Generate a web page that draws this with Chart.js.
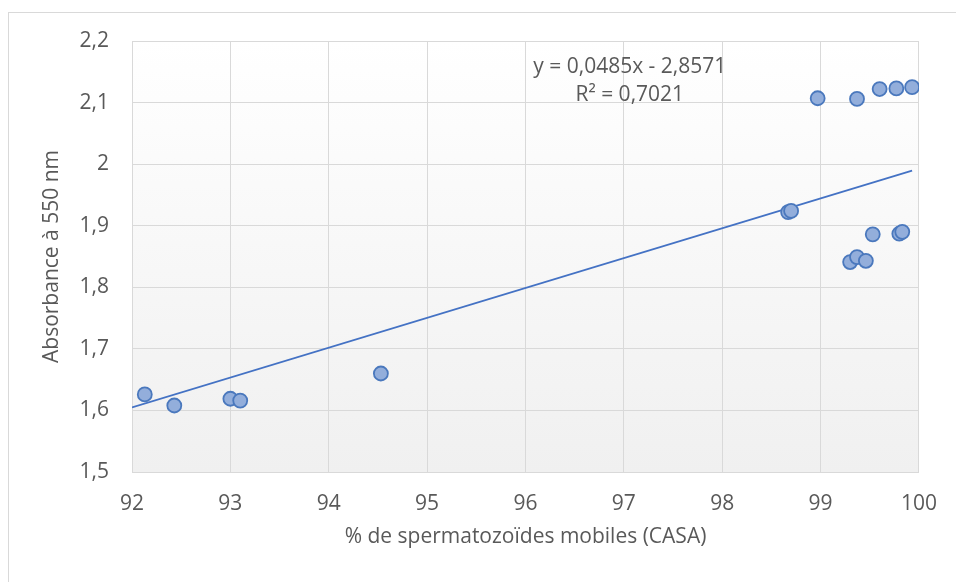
<!DOCTYPE html>
<html>
<head>
<meta charset="utf-8">
<script src="https://cdn.jsdelivr.net/npm/chart.js@4/dist/chart.umd.min.js"></script>
<style>
  html, body { margin: 0; padding: 0; background: #fff; }
  #wrap { position: relative; width: 956px; height: 582px; overflow: hidden; }
  #frame { position: absolute; left: 8px; top: 12px; width: 1200px; height: 900px; border: 1px solid #d9d9d9; }
  #c { position: absolute; left: 0; top: 0; }
</style>
</head>
<body>
<div id="wrap">
  <div id="frame"></div>
  <canvas id="c" width="956" height="582"></canvas>
</div>
<script>
// % mobile spermatozoa (CASA) vs absorbance at 550 nm
const mobility = [92.13, 92.43, 93.00, 93.10, 94.53, 98.67, 98.70, 98.97, 99.30, 99.37, 99.37, 99.46, 99.53, 99.60, 99.77, 99.80, 99.83, 99.93];
const absorbance = [1.626, 1.608, 1.619, 1.616, 1.660, 1.922, 1.924, 2.107, 1.841, 1.849, 2.106, 1.843, 1.886, 2.122, 2.123, 1.887, 1.890, 2.125];

// Excel linear trendline
const slope = 0.0485;
const intercept = -2.8571;
const trendX = [92, 99.93];
const eqLabels = ["y = 0,0485x - 2,8571", "R² = 0,7021"];

const xTicks = [92, 93, 94, 95, 96, 97, 98, 99, 100];
const yTicks = [1.5, 1.6, 1.7, 1.8, 1.9, 2.0, 2.1, 2.2];

const grey = "#595959";
const font = { family: "'Open Sans', sans-serif", size: 21 };

const points = mobility.map((x, i) => ({ x: x, y: absorbance[i] }));
const trend = trendX.map(x => ({ x: x, y: slope * x + intercept }));

const plotBg = {
  id: "plotBg",
  beforeDraw(chart) {
    const a = chart.chartArea, ctx = chart.ctx;
    const g = ctx.createLinearGradient(0, a.top, 0, a.bottom);
    g.addColorStop(0, "#ffffff");
    g.addColorStop(1, "#f0f0f0");
    ctx.save();
    ctx.fillStyle = g;
    ctx.fillRect(a.left, a.top, a.right - a.left, a.bottom - a.top);
    ctx.restore();
  }
};

const equation = {
  id: "equation",
  afterDraw(chart) {
    const ctx = chart.ctx;
    const cx = chart.scales.x.getPixelForValue(97.06);
    ctx.save();
    ctx.fillStyle = grey;
    ctx.font = "21px 'Open Sans', sans-serif";
    ctx.textAlign = "center";
    ctx.textBaseline = "middle";
    ctx.fillText(eqLabels[0], cx, chart.scales.y.getPixelForValue(2.158));
    ctx.fillText(eqLabels[1], cx, chart.scales.y.getPixelForValue(2.112));
    ctx.restore();
  }
};

new Chart(document.getElementById("c"), {
  type: "scatter",
  data: {
    datasets: [{
      data: points,
      backgroundColor: "#93aedb",
      borderColor: "#4a78bd",
      borderWidth: 1.8,
      pointRadius: 7,
      pointHoverRadius: 7
    }, {
      type: "line",
      data: trend,
      borderColor: "#4472c4",
      borderWidth: 1.8,
      pointRadius: 0,
      fill: false
    }]
  },
  options: {
    responsive: false,
    animation: false,
    events: [],
    layout: { padding: { top: 41, right: 31, left: 0, bottom: 0 } },
    plugins: { legend: { display: false }, tooltip: { enabled: false } },
    scales: {
      x: {
        type: "linear",
        min: 92, max: 100,
        afterBuildTicks: s => { s.ticks = xTicks.map(v => ({ value: v })); },
        afterFit: s => { s.height = 110; },
        grid: { color: "#d9d9d9", lineWidth: 1, drawTicks: false },
        border: { color: "#d9d9d9" },
        ticks: { color: grey, font: font, padding: 19 },
        title: {
          display: true,
          text: "% de spermatozoïdes mobiles (CASA)",
          color: grey, font: font,
          padding: { top: 0, bottom: 32 }
        }
      },
      y: {
        min: 1.5, max: 2.2,
        afterBuildTicks: s => { s.ticks = yTicks.map(v => ({ value: v })); },
        afterFit: s => { s.width = 132; },
        grid: { color: "#d9d9d9", lineWidth: 1, drawTicks: false },
        border: { color: "#d9d9d9" },
        ticks: {
          color: grey, font: font, padding: 23,
          callback: v => String(Math.round(v * 10) / 10).replace(".", ",")
        },
        title: {
          display: true,
          text: "Absorbance à 550 nm",
          color: grey, font: font,
          padding: { top: 39, bottom: 0 }
        }
      }
    }
  },
  plugins: [plotBg, equation]
});
</script>
</body>
</html>
